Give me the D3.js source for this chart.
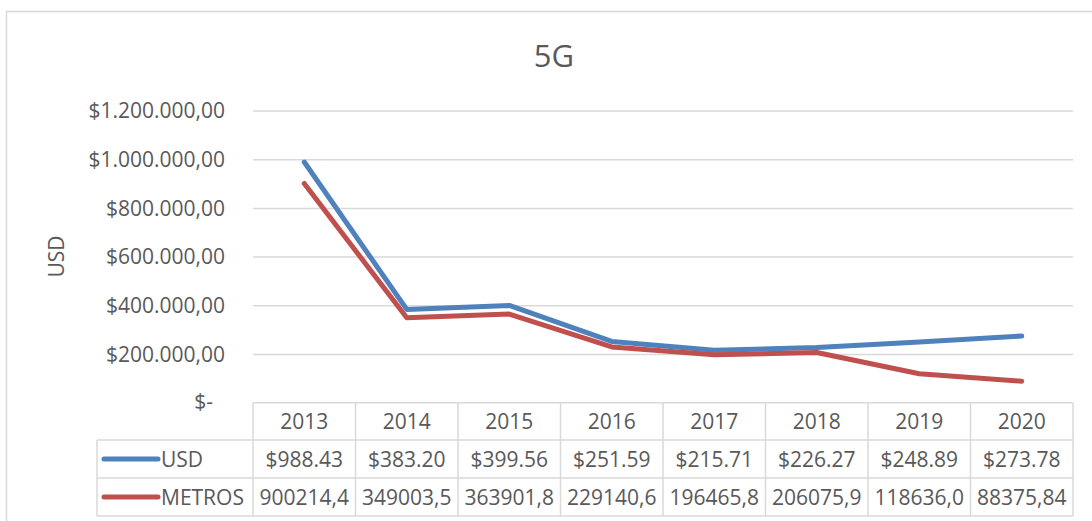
<!DOCTYPE html>
<html>
<head>
<meta charset="utf-8">
<script src="https://cdn.jsdelivr.net/npm/d3@7"></script>
<style>
  html, body { margin: 0; padding: 0; background: #fff; }
  svg { display: block; font-family: "Open Sans", sans-serif; }
</style>
</head>
<body>
<svg id="chart" width="1092" height="521"></svg>
<script>
const years = ['2013', '2014', '2015', '2016', '2017', '2018', '2019', '2020'];
const usdValues = [988430, 383200, 399560, 251590, 215710, 226270, 248890, 273780];
const metrosValues = [900214.4, 349003.5, 363901.8, 229140.6, 196465.8, 206075.9, 118636.0, 88375.84];
const usdLabels = ['$988.43', '$383.20', '$399.56', '$251.59', '$215.71', '$226.27', '$248.89', '$273.78'];
const metrosLabels = ['900214,4', '349003,5', '363901,8', '229140,6', '196465,8', '206075,9', '118636,0', '88375,84'];
const yTicks = [0, 200000, 400000, 600000, 800000, 1000000, 1200000];

const series = [
    { name: 'USD', values: usdValues, labels: usdLabels, color: '#4F81BD' },
    { name: 'METROS', values: metrosValues, labels: metrosLabels, color: '#C0504D' },
];

const width = 1092;
const height = 521;
const textColor = '#595959';
const gridColor = '#D9D9D9';

const plot = { left: 253, right: 1073, top: 110.5, bottom: 402.7 };
const table = { left: 97, rows: [402.7, 440, 478, 516] };

const svg = d3.select('#chart');

// Chart border
svg.append('rect')
    .attr('x', 6.5)
    .attr('y', 11.5)
    .attr('width', width + 10)
    .attr('height', height + 10)
    .attr('fill', 'none')
    .attr('stroke', gridColor)
    .attr('stroke-width', 1.5);

// Scales
const xScale = d3.scaleBand()
    .domain(years)
    .range([plot.left, plot.right]);

const yScale = d3.scaleLinear()
    .domain([0, 1200000])
    .range([plot.bottom, plot.top]);

// Gridlines
svg.append('g')
    .attr('class', 'gridlines')
    .attr('transform', `translate(${plot.left}, 0)`)
    .call(
        d3.axisLeft(yScale)
            .tickValues(yTicks.slice(1))
            .tickFormat('')
            .tickSize(-(plot.right - plot.left))
    )
    .call(g => g.select('.domain').remove())
    .call(g => g.selectAll('line').attr('stroke', gridColor).attr('stroke-width', 1.5));

// Y axis labels
const fmtMoney = d => d === 0
    ? '$-'
    : '$' + d3.format(',.2f')(d).replace(/,/g, '#').replace('.', ',').replace(/#/g, '.');

svg.append('g')
    .attr('transform', `translate(${plot.left - 28}, 0)`)
    .call(
        d3.axisLeft(yScale)
            .tickValues(yTicks)
            .tickFormat(fmtMoney)
            .tickSize(0)
    )
    .call(g => g.select('.domain').remove())
    .call(g => g.selectAll('text')
        .attr('fill', textColor)
        .style('font-size', '21px')
        .style('font-family', '"Open Sans", sans-serif')
        .attr('x', d => d === 0 ? -12 : 0)
        .attr('dy', d => d === 0 ? '0.28em' : '0.34em'));

// Title
svg.append('text')
    .attr('x', 554)
    .attr('y', 67)
    .attr('text-anchor', 'middle')
    .attr('fill', textColor)
    .style('font-size', '31px')
    .text('5G');

// Y axis title
svg.append('text')
    .attr('transform', 'translate(64, 256.5) rotate(-90)')
    .attr('text-anchor', 'middle')
    .attr('fill', textColor)
    .style('font-size', '21px')
    .text('USD');

// Data table
const tableG = svg.append('g').attr('class', 'data-table');
const lineStyle = sel => sel.attr('stroke', gridColor).attr('stroke-width', 1.5);

// horizontal rules
tableG.append('line')
    .attr('x1', plot.left).attr('x2', plot.right)
    .attr('y1', table.rows[0]).attr('y2', table.rows[0])
    .call(lineStyle);
table.rows.slice(1).forEach(y => {
    tableG.append('line')
        .attr('x1', table.left).attr('x2', plot.right)
        .attr('y1', y).attr('y2', y)
        .call(lineStyle);
});

// vertical rules
tableG.append('line')
    .attr('x1', table.left).attr('x2', table.left)
    .attr('y1', table.rows[1]).attr('y2', table.rows[3])
    .call(lineStyle);
years.forEach(yr => {
    const x = xScale(yr);
    tableG.append('line')
        .attr('x1', x).attr('x2', x)
        .attr('y1', table.rows[0]).attr('y2', table.rows[3])
        .call(lineStyle);
});
tableG.append('line')
    .attr('x1', plot.right).attr('x2', plot.right)
    .attr('y1', table.rows[0]).attr('y2', table.rows[3])
    .call(lineStyle);

// header (years)
tableG.selectAll('text.year')
    .data(years)
    .join('text')
    .attr('class', 'year')
    .attr('x', d => xScale(d) + xScale.bandwidth() / 2)
    .attr('y', (table.rows[0] + table.rows[1]) / 2)
    .attr('dy', '0.36em')
    .attr('text-anchor', 'middle')
    .attr('fill', textColor)
    .style('font-size', '21px')
    .text(d => d);

// series rows
series.forEach((s, i) => {
    const yMid = (table.rows[i + 1] + table.rows[i + 2]) / 2;

    tableG.append('line')
        .attr('x1', 104).attr('x2', 158)
        .attr('y1', yMid).attr('y2', yMid)
        .attr('stroke', s.color)
        .attr('stroke-width', 5)
        .attr('stroke-linecap', 'round');

    tableG.append('text')
        .attr('x', 161)
        .attr('y', yMid)
        .attr('dy', '0.36em')
        .attr('fill', textColor)
        .style('font-size', '21px')
        .text(s.name);

    tableG.selectAll(`text.val-${i}`)
        .data(s.labels)
        .join('text')
        .attr('class', `val-${i}`)
        .attr('x', (d, j) => xScale(years[j]) + xScale.bandwidth() / 2)
        .attr('y', yMid)
        .attr('dy', '0.36em')
        .attr('text-anchor', 'middle')
        .attr('fill', textColor)
        .style('font-size', '21px')
        .text(d => d);
});

// Lines
const line = d3.line()
    .x((d, i) => xScale(years[i]) + xScale.bandwidth() / 2)
    .y(d => yScale(d));

svg.append('g')
    .attr('class', 'lines')
    .selectAll('path')
    .data(series)
    .join('path')
    .attr('d', d => line(d.values))
    .attr('fill', 'none')
    .attr('stroke', d => d.color)
    .attr('stroke-width', 5)
    .attr('stroke-linejoin', 'round')
    .attr('stroke-linecap', 'round');
</script>
</body>
</html>
